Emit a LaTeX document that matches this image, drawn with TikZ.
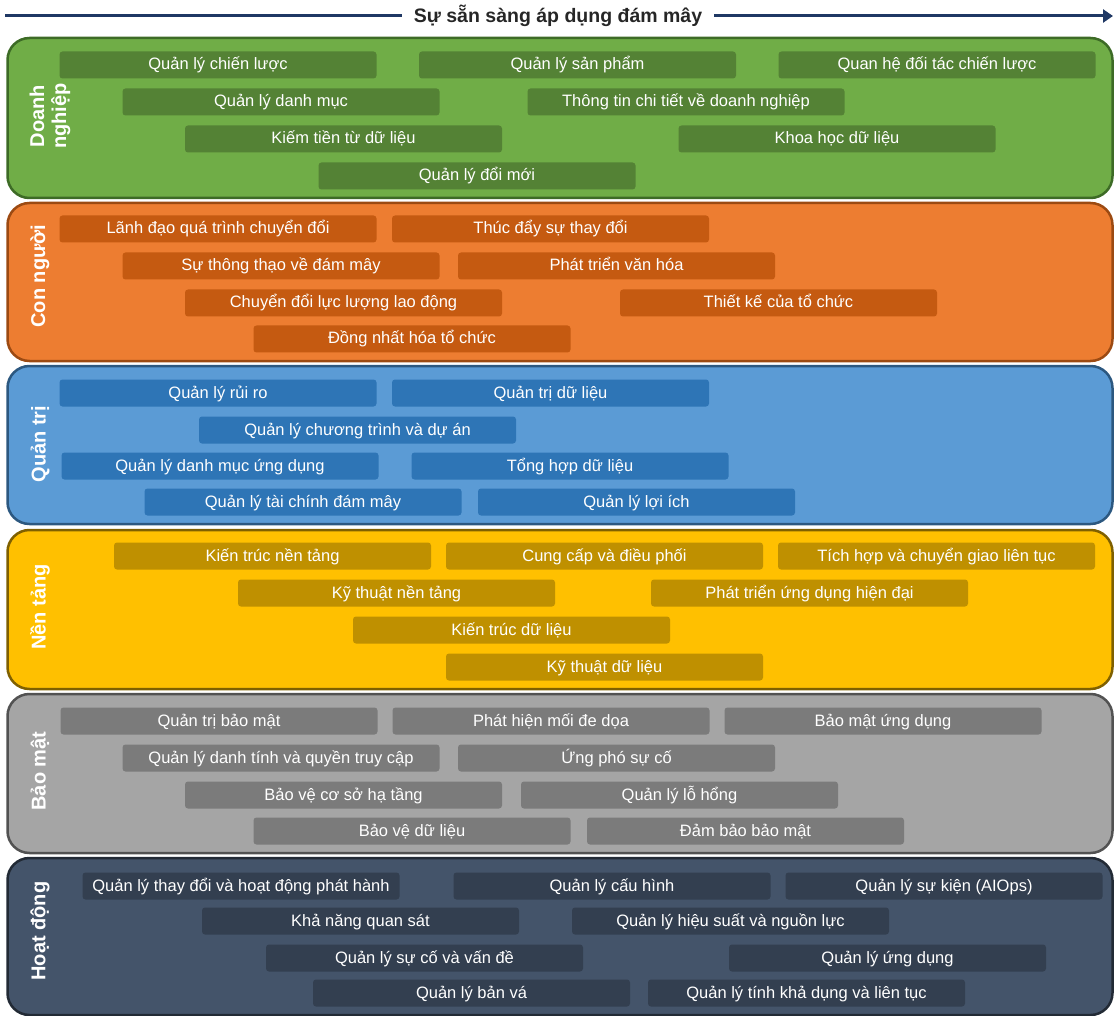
\documentclass[tikz,border=0pt]{standalone}
\usepackage{fontspec}
\setmainfont{Liberation Sans}
\usetikzlibrary{arrows.meta,positioning}

\definecolor{gnF}{HTML}{70AD47}\definecolor{gnD}{HTML}{3D6B26}\definecolor{gnB}{HTML}{548235}
\definecolor{orF}{HTML}{ED7D31}\definecolor{orD}{HTML}{9C4A12}\definecolor{orB}{HTML}{C55A11}
\definecolor{blF}{HTML}{5B9BD5}\definecolor{blD}{HTML}{2C5880}\definecolor{blB}{HTML}{2E75B6}
\definecolor{ylF}{HTML}{FFC000}\definecolor{ylD}{HTML}{7F6000}\definecolor{ylB}{HTML}{BF9000}
\definecolor{grF}{HTML}{A5A5A5}\definecolor{grD}{HTML}{525252}\definecolor{grB}{HTML}{7B7B7B}
\definecolor{dkF}{HTML}{44546A}\definecolor{dkD}{HTML}{222A35}\definecolor{dkB}{HTML}{333F50}
\definecolor{navy}{HTML}{1F3864}

\tikzset{
  panel/.style={rounded corners=22pt,line width=2.5pt,minimum width=1105pt,inner sep=0pt},
  item/.style={rounded corners=3pt,minimum width=317pt,minimum height=27pt,inner sep=0pt,
    text height=13pt,text depth=3pt,text=white,font=\fontsize{16.5}{19}\selectfont},
  side/.style={rotate=90,text=white,align=center,font=\bfseries\fontsize{20}{22}\selectfont}
}

\begin{document}
\begin{tikzpicture}[x=1pt,y=-1pt,>=Stealth]
\useasboundingbox (0,0) rectangle (1114,1016);

% title arrow
\node[font=\bfseries\fontsize{19.5}{22}\selectfont,text=black!85,inner xsep=12pt] (title) at (558,16) {Sự sẵn sàng áp dụng đám mây};
\coordinate (aL) at (5,16);
\coordinate (aR) at (1113,16);
\draw[navy,line width=3pt] (aL) -- (title.west);
\draw[navy,line width=3pt,-{Triangle[length=10pt,width=13pt]}] (title.east) -- (aR);

% panels
\foreach \y/\h/\f/\d/\n in {118/160/gnF/gnD/dn,282/158/orF/orD/cn,445/158/blF/blD/qt,
  609.5/159/ylF/ylD/nt,773.5/159/grF/grD/bm,936.5/157/dkF/dkD/hd} {
  \node[panel,fill=\f,draw=\d,minimum height=\h] (\n) at (560,\y) {};
}

% side labels
\node[side] (dnL) at (50,116) {Doanh\\nghiệp};
\node[side] (cnL) at (40,276) {Con người};
\node[side] (qtL) at (40,444) {Quản trị};
\node[side] (ntL) at (40,607) {Nền tảng};
\node[side] (bmL) at (40,771) {Bảo mật};
\node[side] (hdL) at (40,931) {Hoạt động};

% Doanh nghiep
\foreach \x/\y/\t/\n in {218/65/Quản lý chiến lược/dn1,577.5/65/Quản lý sản phẩm/dn2,
  937/65/Quan hệ đối tác chiến lược/dn3,281/102/Quản lý danh mục/dn4,
  686/102/Thông tin chi tiết về doanh nghiệp/dn5,343.5/139/Kiếm tiền từ dữ liệu/dn6,
  837/139/Khoa học dữ liệu/dn7,477/176/Quản lý đổi mới/dn8}
  \node[item,fill=gnB] (\n) at (\x,\y) {\t};

% Con nguoi
\foreach \x/\y/\t/\n in {218/229/Lãnh đạo quá trình chuyển đổi/cn1,550.5/229/Thúc đẩy sự thay đổi/cn2,
  281/266/Sự thông thạo về đám mây/cn3,616.5/266/Phát triển văn hóa/cn4,
  343.5/303/Chuyển đổi lực lượng lao động/cn5,778.5/303/Thiết kế của tổ chức/cn6,
  412/339/Đồng nhất hóa tổ chức/cn7}
  \node[item,fill=orB] (\n) at (\x,\y) {\t};

% Quan tri
\foreach \x/\y/\t/\n in {218/393/Quản lý rủi ro/qt1,550.5/393/Quản trị dữ liệu/qt2,
  357.5/430/Quản lý chương trình và dự án/qt3,220/466/Quản lý danh mục ứng dụng/qt4,
  570/466/Tổng hợp dữ liệu/qt5,303/502/Quản lý tài chính đám mây/qt6,
  636.5/502/Quản lý lợi ích/qt7}
  \node[item,fill=blB] (\n) at (\x,\y) {\t};

% Nen tang
\foreach \x/\y/\t/\n in {272.5/556/Kiến trúc nền tảng/nt1,604.5/556/Cung cấp và điều phối/nt2,
  936.5/556/Tích hợp và chuyển giao liên tục/nt3,396.5/593/Kỹ thuật nền tảng/nt4,
  809.5/593/Phát triển ứng dụng hiện đại/nt5,511.5/630/Kiến trúc dữ liệu/nt6,
  604.5/667/Kỹ thuật dữ liệu/nt7}
  \node[item,fill=ylB] (\n) at (\x,\y) {\t};

% Bao mat
\foreach \x/\y/\t/\n in {219/721/Quản trị bảo mật/bm1,551/721/Phát hiện mối đe dọa/bm2,
  883/721/Bảo mật ứng dụng/bm3,281/758/Quản lý danh tính và quyền truy cập/bm4,
  616.5/758/Ứng phó sự cố/bm5,343.5/795/Bảo vệ cơ sở hạ tầng/bm6,
  679.5/795/Quản lý lỗ hổng/bm7,412/831/Bảo vệ dữ liệu/bm8,745.5/831/Đảm bảo bảo mật/bm9}
  \node[item,fill=grB] (\n) at (\x,\y) {\t};

% Hoat dong
\foreach \x/\y/\t/\n in {241/886/Quản lý thay đổi và hoạt động phát hành/hd1,612/886/Quản lý cấu hình/hd2,
  944/886/Quản lý sự kiện (AIOps)/hd3,360.5/921/Khả năng quan sát/hd4,
  730.5/921/Quản lý hiệu suất và nguồn lực/hd5,424.5/958/Quản lý sự cố và vấn đề/hd6,
  887.5/958/Quản lý ứng dụng/hd7,471.5/993/Quản lý bản vá/hd8,
  806.5/993/Quản lý tính khả dụng và liên tục/hd9}
  \node[item,fill=dkB] (\n) at (\x,\y) {\t};
\end{tikzpicture}
\end{document}
